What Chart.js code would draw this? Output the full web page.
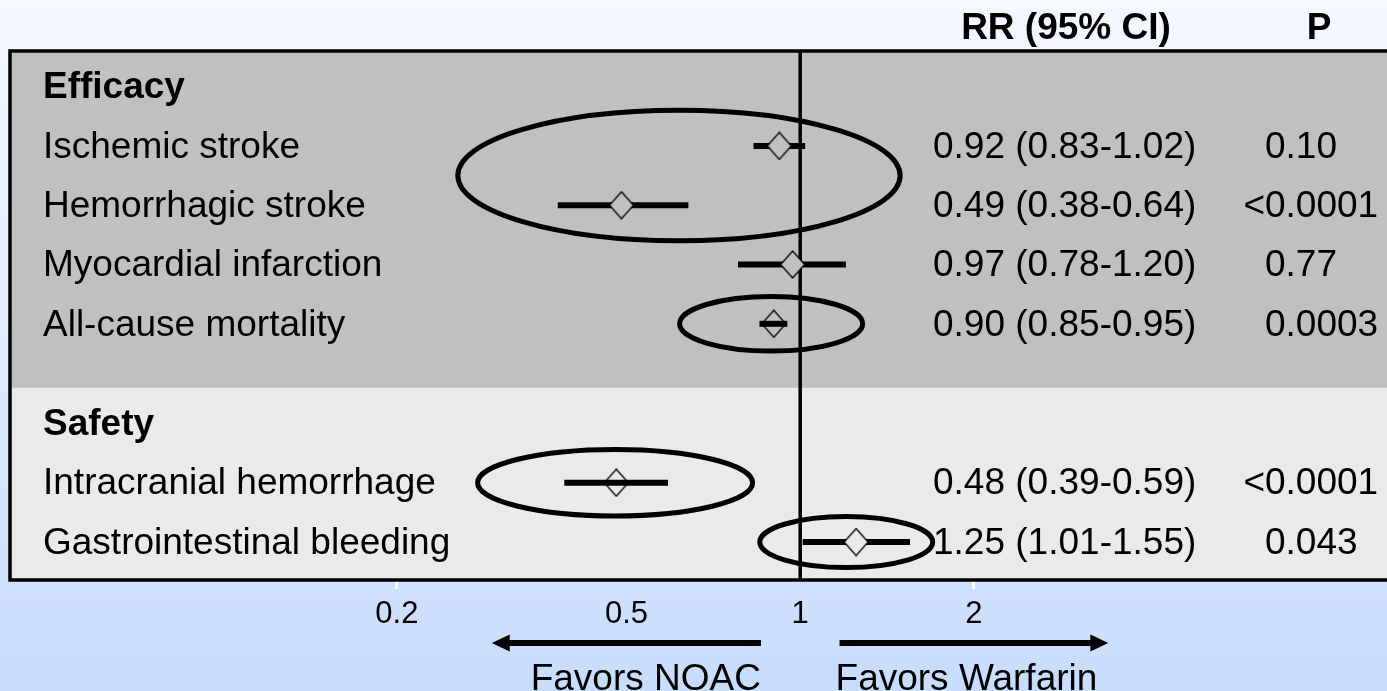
<!DOCTYPE html>
<html>
<head>
<meta charset="utf-8">
<title>NOAC vs Warfarin</title>
<script src="https://cdn.jsdelivr.net/npm/chart.js@4.4.1/dist/chart.umd.min.js"></script>
<style>
    html, body { margin: 0; padding: 0; overflow: hidden; }
    #wrap { position: relative; width: 1387px; height: 691px; }
</style>
</head>
<body>
<div id="wrap"><canvas id="forest-canvas"></canvas></div>
<script>
// Datos de cada desenlace
const outcomes = ['Ischemic stroke', 'Hemorrhagic stroke', 'Myocardial infarction', 'All-cause mortality', 'Intracranial hemorrhage', 'Gastrointestinal bleeding'];
const groups = ['Efficacy', 'Efficacy', 'Efficacy', 'Efficacy', 'Safety', 'Safety'];
const rr = [0.92, 0.49, 0.97, 0.90, 0.48, 1.25];
const ciLow = [0.83, 0.38, 0.78, 0.85, 0.39, 1.01];
const ciHigh = [1.02, 0.64, 1.20, 0.95, 0.59, 1.55];
const pValues = ['0.10', '<0.0001', '0.77', '0.0003', '<0.0001', '0.043'];
const tickValues = [0.2, 0.5, 1, 2];

const FONT = '"Liberation Sans", Arial, sans-serif';
const GROUP_GAP = 0.68;
const TEXT_DY = 1.5; // ajuste vertical del texto respecto a la fila
const bandColors = { Efficacy: '#c0c0c0', Safety: '#eaeaea' };
// filas cuyo rombo va sin relleno (la barra se ve por dentro)
const hollowRows = [3, 4];

// Óvalos de resalte: filas desde/hasta y extremos en RR
const highlights = [
    { from: 0, to: 1, lo: 0.255, hi: 1.49, pad: 0.6 },
    { from: 3, to: 3, lo: 0.618, hi: 1.283, pad: 0.46 },
    { from: 4, to: 4, lo: 0.276, hi: 0.827, pad: 0.56 },
    { from: 5, to: 5, lo: 0.851, hi: 1.697, pad: 0.43 }
];

// Flechas bajo el eje
const favorArrows = [
    { from: 0.855, to: 0.292, label: 'Favors NOAC' },
    { from: 1.17, to: 3.42, label: 'Favors Warfarin' }
];

// Posición vertical de cada fila (con encabezado por grupo)
const rowPos = [];
const headers = [];
let pos = 0;
outcomes.forEach((name, i) => {
    if (i === 0 || groups[i] !== groups[i - 1]) {
        if (i > 0) pos += GROUP_GAP;
        headers.push({ label: groups[i], pos: pos });
        pos += 1;
    }
    rowPos.push(pos);
    pos += 1;
});
const yMin = -0.6;
const yMax = rowPos[rowPos.length - 1] + 0.64;

function makeDiamond(fill){
    const c = document.createElement('canvas');
    c.width = 26;
    c.height = 29;
    const g = c.getContext('2d');
    g.beginPath();
    g.moveTo(13, 1);
    g.lineTo(25, 14.5);
    g.lineTo(13, 28);
    g.lineTo(1, 14.5);
    g.closePath();
    if (fill) {
        g.fillStyle = fill;
        g.fill();
    }
    g.lineWidth = 1.3;
    g.strokeStyle = '#000';
    g.stroke();
    return c;
}

const forestDecor = {
    id: 'forestDecor',
    beforeDraw(chart){
        const { ctx, chartArea: a, scales: { y } } = chart;
        ctx.save();
        // fondo degradado
        const grad = ctx.createLinearGradient(0, 0, 0, chart.height);
        grad.addColorStop(0, '#f5f8ff');
        grad.addColorStop(1, '#c8dcfc');
        ctx.fillStyle = grad;
        ctx.fillRect(0, 0, chart.width, chart.height);
        // bandas de cada grupo
        headers.forEach((h, i) => {
            const top = i === 0 ? a.top : y.getPixelForValue(h.pos - 0.6);
            const bottom = i === headers.length - 1 ? a.bottom : y.getPixelForValue(headers[i + 1].pos - 0.6);
            ctx.fillStyle = bandColors[h.label];
            ctx.fillRect(a.left, top, a.right - a.left, bottom - top);
        });
        ctx.restore();
    },
    afterDatasetsDraw(chart){
        const { ctx, chartArea: a, scales: { x, y } } = chart;
        const unit = Math.abs(y.getPixelForValue(1) - y.getPixelForValue(0));
        ctx.save();

        // óvalos
        ctx.strokeStyle = '#000';
        ctx.lineWidth = 5;
        highlights.forEach(h => {
            const x0 = x.getPixelForValue(h.lo);
            const x1 = x.getPixelForValue(h.hi);
            const y0 = y.getPixelForValue(rowPos[h.from]);
            const y1 = y.getPixelForValue(rowPos[h.to]);
            ctx.beginPath();
            ctx.ellipse((x0 + x1) / 2, (y0 + y1) / 2, (x1 - x0) / 2, (y1 - y0) / 2 + h.pad * unit, 0, 0, Math.PI * 2);
            ctx.stroke();
        });

        // marco
        ctx.lineWidth = 3.5;
        ctx.beginPath();
        ctx.moveTo(a.right + 5, a.top);
        ctx.lineTo(a.left, a.top);
        ctx.lineTo(a.left, a.bottom);
        ctx.lineTo(a.right + 5, a.bottom);
        ctx.stroke();

        // textos
        ctx.fillStyle = '#000';
        ctx.textBaseline = 'middle';
        ctx.font = 'bold 37px ' + FONT;
        ctx.textAlign = 'center';
        ctx.fillText('RR (95% CI)', 1066, 27.5 + TEXT_DY);
        ctx.fillText('P', 1319, 27.5 + TEXT_DY);
        ctx.textAlign = 'left';
        headers.forEach(h => ctx.fillText(h.label, 43, y.getPixelForValue(h.pos) + TEXT_DY));

        ctx.font = '37px ' + FONT;
        const ltWidth = ctx.measureText('<').width;
        outcomes.forEach((name, i) => {
            const py = y.getPixelForValue(rowPos[i]) + TEXT_DY;
            ctx.fillText(name, 43, py);
            const txt = rr[i].toFixed(2) + ' (' + ciLow[i].toFixed(2) + '-' + ciHigh[i].toFixed(2) + ')';
            ctx.fillText(txt, 933, py);
            const p = pValues[i];
            ctx.fillText(p, p.startsWith('<') ? 1265 - ltWidth : 1265, py);
        });

        // flechas
        const ay = 643;
        favorArrows.forEach(f => {
            const x0 = x.getPixelForValue(f.from);
            const x1 = x.getPixelForValue(f.to);
            const dir = Math.sign(x1 - x0);
            ctx.lineWidth = 6;
            ctx.beginPath();
            ctx.moveTo(x0, ay);
            ctx.lineTo(x1 - dir * 16, ay);
            ctx.stroke();
            ctx.beginPath();
            ctx.moveTo(x1, ay);
            ctx.lineTo(x1 - dir * 18, ay - 8.5);
            ctx.lineTo(x1 - dir * 18, ay + 8.5);
            ctx.closePath();
            ctx.fill();
            ctx.textBaseline = 'alphabetic';
            ctx.textAlign = dir < 0 ? 'right' : 'left';
            ctx.fillText(f.label, dir < 0 ? x0 : x0 - 4, 690);
        });
        ctx.restore();
    }
};

function createForestChart(){
    const diamondStyles = rr.map((v, i) => makeDiamond(hollowRows.includes(i) ? null : bandColors[groups[i]]));

    const ctx = document.getElementById('forest-canvas').getContext('2d');

    new Chart(ctx, {
        type: 'scatter',
        data: {
            datasets: [
                {
                    // estimación puntual
                    data: rr.map((v, i) => ({ x: v, y: rowPos[i] })),
                    pointStyle: diamondStyles,
                    pointRadius: 13
                },
                // intervalos de confianza
                ...outcomes.map((name, i) => ({
                    data: [{ x: ciLow[i], y: rowPos[i] }, { x: ciHigh[i], y: rowPos[i] }],
                    showLine: true,
                    borderColor: '#000',
                    borderWidth: 6,
                    borderCapStyle: 'butt',
                    pointRadius: 0
                })),
                {
                    // línea de no efecto
                    data: [{ x: 1, y: yMin }, { x: 1, y: yMax }],
                    showLine: true,
                    borderColor: '#000',
                    borderWidth: 3.5,
                    pointRadius: 0
                }
            ]
        },
        options: {
            responsive: true,
            maintainAspectRatio: false,
            animation: false,
            layout: { autoPadding: false, padding: { left: 10, top: 51, right: 0, bottom: 50.8 } },
            scales: {
                x: {
                    type: 'logarithmic',
                    position: 'bottom',
                    min: 0.0427,
                    max: 10.4,
                    bounds: 'data',
                    afterBuildTicks: scale => { scale.ticks = tickValues.map(v => ({ value: v })); },
                    border: { display: false },
                    grid: {
                        drawOnChartArea: false,
                        drawTicks: true,
                        tickLength: 9,
                        tickWidth: 3,
                        tickColor: c => (c.tick && (c.tick.value === 0.2 || c.tick.value === 2)) ? '#ffffff' : 'rgba(0,0,0,0)'
                    },
                    ticks: {
                        autoSkip: false,
                        maxRotation: 0,
                        padding: 7,
                        color: '#000',
                        font: { family: FONT, size: 31 },
                        callback: v => String(v)
                    }
                },
                y: {
                    type: 'linear',
                    display: false,
                    reverse: true,
                    min: yMin,
                    max: yMax,
                    bounds: 'data'
                }
            },
            plugins: {
                legend: { display: false },
                tooltip: { enabled: false }
            }
        },
        plugins: [forestDecor]
    });
}

createForestChart();
</script>
</body>
</html>
